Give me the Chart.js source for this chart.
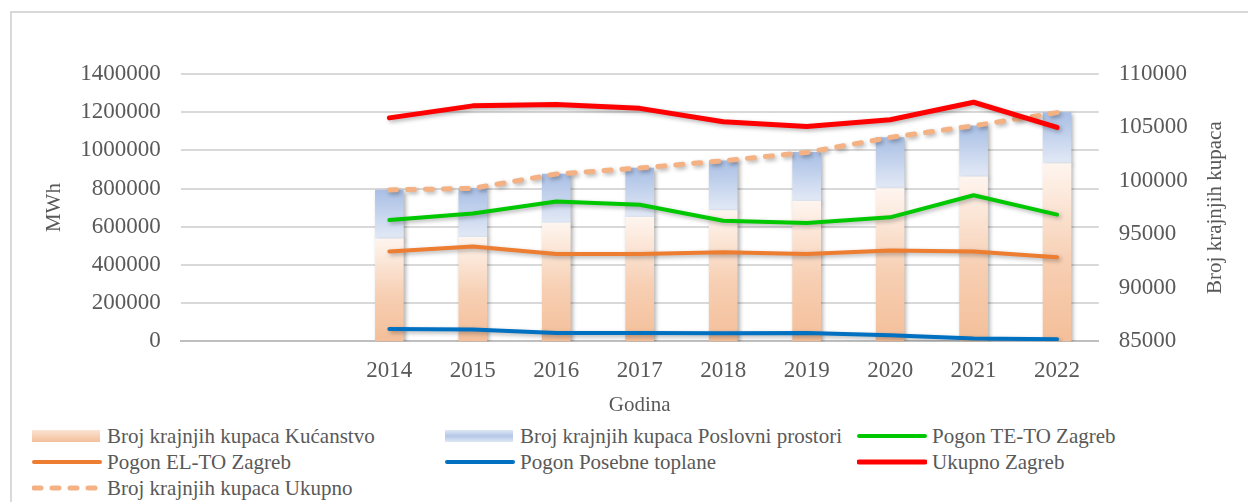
<!DOCTYPE html>
<html>
<head>
<meta charset="utf-8">
<script src="https://cdn.jsdelivr.net/npm/chart.js"></script>
<style>
html,body{margin:0;padding:0;background:#fff;}
body{width:1248px;height:502px;overflow:hidden;position:relative;font-family:'Liberation Serif',serif;}
#frame{position:absolute;left:10px;top:11px;width:1300px;height:600px;border:2px solid #d9d9d9;box-sizing:border-box;}
#wrap{position:absolute;left:0;top:0;width:1248px;height:420px;}
.lg{position:absolute;height:26px;line-height:26px;font-size:21px;white-space:nowrap;color:#595959;font-family:'Liberation Serif',serif;}
.lg svg{position:absolute;left:0;top:0;}
.lg span{position:absolute;top:0;}
</style>
</head>
<body>
<div id="frame"></div>
<div id="wrap"><canvas id="chart"></canvas></div>
<div id="legend"></div>
<script>
// ---- data ----
const years = ["2014","2015","2016","2017","2018","2019","2020","2021","2022"];
const blankSlots = 2;   // empty categories left of 2014

const kucanstvo   = [94580, 94730, 96040, 96600, 97220, 98090, 99270, 100390, 101630];
const poslovni    = [4570, 4570, 4600, 4600, 4660, 4570, 4790, 4760, 4760];
const kupciUkupno = [99150, 99300, 100640, 101200, 101880, 102660, 104060, 105150, 106390];

const teto    = [635000, 669000, 732000, 715000, 631000, 619000, 649000, 765000, 663000];
const elto    = [470000, 496000, 457000, 457000, 466000, 457000, 475000, 470000, 440000];
const posebne = [64000, 61000, 43000, 43000, 42000, 43000, 31000, 14000, 10000];
const ukupno  = [1170000, 1233000, 1240000, 1220000, 1150000, 1125000, 1160000, 1252000, 1120000];

const mwhTicks  = [0, 1400000, 200000];
const kupTicks  = [85000, 110000, 5000];

const FONT = "'Liberation Serif','Times New Roman',serif";
const GREY = "#595959";

const pad = arr => [...Array(blankSlots).fill(null), ...arr];
const labels = pad(years).map(v => v ?? "");

// vertical gradient per bar segment
function barFill(stops, lowFn, highFn){
    return ctx => {
        const chart = ctx.chart;
        const s = chart.scales.y1;
        const i = ctx.dataIndex - blankSlots;
        if(!chart.chartArea || !s || ctx.type !== "data" || i < 0) return stops[0][1];
        const y0 = lowFn(i, s, chart.chartArea);
        const y1 = highFn(i, s, chart.chartArea);
        const g = chart.ctx.createLinearGradient(0, y0, 0, y1);
        stops.forEach(st => g.addColorStop(st[0], st[1]));
        return g;
    };
}

const orangeStops = [[0,"#f4bf9a"],[0.45,"#f7cfb3"],[1,"#fef5ef"]];
const blueStops   = [[0,"#e3eaf6"],[1,"#a9bfe5"]];

const shadow = {
    id:"shadow",
    beforeDatasetDraw(chart){
        const c = chart.ctx;
        c.save();
        c.shadowColor = "rgba(0,0,0,0.3)";
        c.shadowBlur = 4;
        c.shadowOffsetX = 2;
        c.shadowOffsetY = 2;
    },
    afterDatasetDraw(chart){
        chart.ctx.restore();
    }
};

// right axis title reads bottom-to-top like the left one
const rightTitle = {
    id:"rightTitle",
    afterDraw(chart){
        const s = chart.scales.y1;
        const c = chart.ctx;
        c.save();
        c.font = "21px " + FONT;
        c.fillStyle = GREY;
        c.textAlign = "center";
        c.textBaseline = "middle";
        c.translate(s.right - 12 - 12.6, (chart.chartArea.top + chart.chartArea.bottom) / 2);
        c.rotate(-Math.PI / 2);
        c.fillText("Broj krajnjih kupaca", 0, 0);
        c.restore();
    }
};

const lineDefaults = {
    type:"line",
    yAxisID:"y",
    pointRadius:0,
    pointHoverRadius:0,
    tension:0,
    fill:false,
    borderCapStyle:"round",
    borderJoinStyle:"round"
};

const datasets = [
    {
        type:"bar", label:"Broj krajnjih kupaca Kućanstvo", yAxisID:"y1", stack:"kup",
        data:pad(kucanstvo), order:10, barThickness:28,
        backgroundColor:barFill(orangeStops, (i,s,a)=>a.bottom, (i,s)=>s.getPixelForValue(kucanstvo[i])),
        legendFill:"linear-gradient(to top,#f4bf9a,#fbe3d3)"
    },
    {
        type:"bar", label:"Broj krajnjih kupaca Poslovni prostori", yAxisID:"y1", stack:"kup",
        data:pad(poslovni), order:10, barThickness:28,
        backgroundColor:barFill(blueStops, (i,s)=>s.getPixelForValue(kucanstvo[i]), (i,s)=>s.getPixelForValue(kupciUkupno[i])),
        legendFill:"linear-gradient(to bottom,#dfe7f4,#b4c7e7 50%,#dfe7f4)"
    },
    {...lineDefaults, label:"Pogon TE-TO Zagreb", data:pad(teto), borderColor:"#00c800", borderWidth:4, order:3},
    {...lineDefaults, label:"Pogon EL-TO Zagreb", data:pad(elto), borderColor:"#ed7d31", borderWidth:4, order:4},
    {...lineDefaults, label:"Pogon Posebne toplane", data:pad(posebne), borderColor:"#0070c0", borderWidth:4, order:5},
    {...lineDefaults, label:"Ukupno Zagreb", data:pad(ukupno), borderColor:"#ff0000", borderWidth:5, order:1},
    {...lineDefaults, label:"Broj krajnjih kupaca Ukupno", yAxisID:"y1", stack:"tot",
        data:pad(kupciUkupno), borderColor:"#f4b183", borderWidth:5, borderDash:[7,11], order:2}
];

const tickFont = {family:FONT, size:23};
const titleFont = {family:FONT, size:21};

new Chart(document.getElementById("chart"), {
    data:{labels, datasets},
    plugins:[shadow, rightTitle],
    options:{
        responsive:true,
        maintainAspectRatio:false,
        animation:false,
        layout:{padding:{left:18, right:8, top:74, bottom:2}},
        plugins:{legend:{display:false}, tooltip:{enabled:false}},
        scales:{
            x:{
                stacked:true,
                grid:{display:false, drawTicks:false},
                border:{color:"#bfbfbf", width:2},
                ticks:{color:GREY, font:tickFont, padding:16, maxRotation:0, autoSkip:false},
                title:{display:true, text:"Godina", color:GREY, font:titleFont, padding:{top:-8, bottom:0}}
            },
            y:{
                position:"left",
                min:mwhTicks[0], max:mwhTicks[1],
                ticks:{stepSize:mwhTicks[2], color:GREY, font:tickFont, padding:20, callback:v=>String(v)},
                grid:{color:"#d9d9d9", lineWidth:2, drawTicks:false},
                border:{display:false},
                title:{display:true, text:"MWh", color:GREY, font:titleFont, padding:{top:24, bottom:-7}}
            },
            y1:{
                position:"right",
                stacked:true,
                min:kupTicks[0], max:kupTicks[1],
                ticks:{stepSize:kupTicks[2], color:GREY, font:tickFont, padding:20, callback:v=>String(v)},
                grid:{drawOnChartArea:false, drawTicks:false},
                border:{display:false},
                title:{display:true, text:"Broj krajnjih kupaca", color:"rgba(0,0,0,0)", font:titleFont, padding:{top:12, bottom:-5}}
            }
        }
    }
});

// ---- html legend (3 columns, Excel-style) ----
const legendCols = [32, 445, 857];
const legendRows = [423, 449, 475];
const legend = document.getElementById("legend");
datasets.forEach((ds, k) => {
    const item = document.createElement("div");
    item.className = "lg";
    item.style.fontFamily = FONT;
    item.style.left = legendCols[k % 3] + "px";
    item.style.top = legendRows[Math.floor(k / 3)] + "px";
    let sw;
    if(ds.type === "bar"){
        sw = `<div style="position:absolute;left:0;top:7px;width:68px;height:12px;background:${ds.legendFill}"></div>`;
    } else {
        const dash = ds.borderDash ? `stroke-dasharray="${ds.borderDash.join(" ")}"` : "";
        sw = `<svg width="70" height="26"><line x1="2" y1="13" x2="68" y2="13" stroke="${ds.borderColor}" stroke-width="${ds.borderWidth}" stroke-linecap="round" ${dash}/></svg>`;
    }
    item.innerHTML = sw + `<span style="left:75px">${ds.label}</span>`;
    legend.appendChild(item);
});
</script>
</body>
</html>
